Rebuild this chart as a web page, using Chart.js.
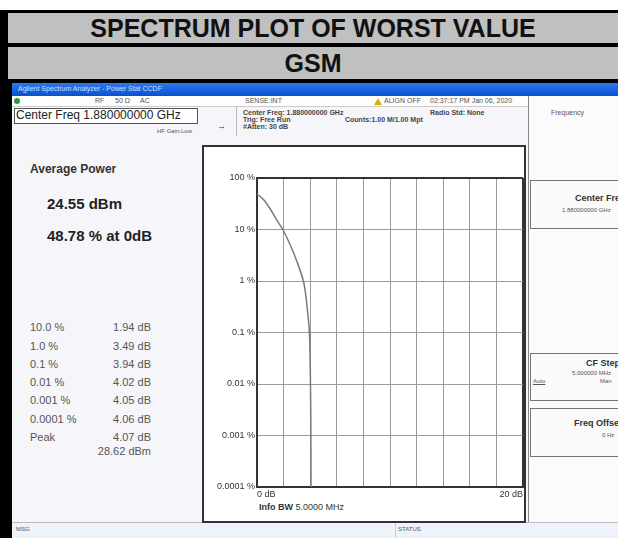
<!DOCTYPE html>
<html>
<head>
<meta charset="utf-8">
<script src="https://cdn.jsdelivr.net/npm/chart.js@4.4.1/dist/chart.umd.min.js"></script>
<style>
  body { margin: 0; width: 618px; height: 538px; overflow: hidden; background: #fff; font-family: "Liberation Sans", Arial, sans-serif; }
  .abs { position: absolute; }
  .row { position: absolute; left: 8px; width: 610px; background: #c0c0c0; color: #111; font-weight: bold; text-align: center; }
  .tiny { position: absolute; font-size: 7px; color: #555; white-space: nowrap; }
  .stat { position: absolute; font-size: 11px; color: #555; white-space: nowrap; }
  .key { position: absolute; left: 530px; width: 88px; border: 1px solid #777; border-right: none; background: #fafafa; }
</style>
</head>
<body>
<div class="abs" style="left:0;top:10px;width:618px;height:528px;background:#000"></div>
<div class="row" style="top:13px;height:30px;line-height:31px;font-size:25px">SPECTRUM PLOT OF WORST VALUE</div>
<div class="row" style="top:47px;height:32px;line-height:32px;font-size:25px">GSM</div>

<!-- analyzer screen -->
<div class="abs" style="left:12px;top:83px;width:606px;height:455px;background:#f6f6fa"></div>
<div class="abs" style="left:12px;top:83px;width:606px;height:13px;background:linear-gradient(#2a78f0,#0a50d0)"></div>
<div class="tiny" style="left:18px;top:85px;color:#cfe0ff">Agilent Spectrum Analyzer - Power Stat CCDF</div>
<div class="abs" style="left:12px;top:96px;width:516px;height:10px;background:#fdfdfd;border-bottom:1px solid #ccc"></div>
<div class="abs" style="left:14px;top:98px;width:6px;height:6px;border-radius:3px;background:#2c9a2c"></div>
<div class="tiny" style="left:95px;top:97px">RF</div>
<div class="tiny" style="left:115px;top:97px">50 Ω</div>
<div class="tiny" style="left:140px;top:97px">AC</div>
<div class="tiny" style="left:245px;top:97px">SENSE:INT</div>
<div class="abs" style="left:374px;top:98px;width:0;height:0;border-left:4px solid transparent;border-right:4px solid transparent;border-bottom:7px solid #d8b000"></div>
<div class="tiny" style="left:384px;top:97px">ALIGN OFF</div>
<div class="tiny" style="left:430px;top:97px">02:37:17 PM Jan 06, 2020</div>

<div class="abs" style="left:14px;top:108px;width:182px;height:14px;background:#fff;border:1px solid #555"></div>
<div class="abs" style="left:16px;top:108px;font-size:12px;color:#222;white-space:nowrap">Center Freq 1.880000000 GHz</div>
<div class="tiny" style="left:243px;top:109px;font-weight:bold;color:#444">Center Freq: 1.880000000 GHz</div>
<div class="tiny" style="left:243px;top:116px;font-weight:bold;color:#444">Trig: Free Run</div>
<div class="tiny" style="left:243px;top:123px;font-weight:bold;color:#444">#Atten: 30 dB</div>
<div class="tiny" style="left:345px;top:116px;font-weight:bold;color:#444">Counts:1.00 M/1.00 Mpt</div>
<div class="tiny" style="left:430px;top:109px;font-weight:bold;color:#444">Radio Std: None</div>
<div class="tiny" style="left:217px;top:121px;font-size:9px;color:#333">&#8594;</div>
<div class="tiny" style="left:157px;top:128px;font-size:6px">HF Gain:Low</div>
<div class="abs" style="left:236px;top:106px;width:1px;height:30px;background:#bbb"></div>
<div class="abs" style="left:528px;top:96px;width:1px;height:426px;background:#888"></div>
<div class="abs" style="left:529px;top:96px;width:89px;height:426px;background:#fbfbfb"></div>
<div class="tiny" style="left:551px;top:109px">Frequency</div>

<div class="key" style="top:180px;height:47px"></div>
<div class="tiny" style="left:575px;top:193px;font-size:9px;font-weight:bold;color:#333">Center Freq</div>
<div class="tiny" style="left:562px;top:207px;font-size:6px">1.880000000 GHz</div>
<div class="key" style="top:353px;height:46px"></div>
<div class="tiny" style="left:586px;top:358px;font-size:9px;font-weight:bold;color:#333">CF Step</div>
<div class="tiny" style="left:572px;top:370px;font-size:6px">5.000000 MHz</div>
<div class="tiny" style="left:533px;top:378px;font-size:6px;text-decoration:underline">Auto</div>
<div class="tiny" style="left:600px;top:378px;font-size:6px">Man</div>
<div class="key" style="top:408px;height:47px"></div>
<div class="tiny" style="left:574px;top:418px;font-size:9px;font-weight:bold;color:#333">Freq Offset</div>
<div class="tiny" style="left:602px;top:432px;font-size:6px">0 Hz</div>

<div class="abs" style="left:12px;top:522px;width:606px;height:16px;background:#eef2fa;border-top:1px solid #bbb"></div>
<div class="tiny" style="left:16px;top:526px;font-size:6px">MSG</div>
<div class="tiny" style="left:398px;top:526px;font-size:6px">STATUS</div>
<div class="abs" style="left:395px;top:523px;width:1px;height:15px;background:#ccc"></div>

<!-- plot frame -->
<div class="abs" style="left:202px;top:145px;width:320px;height:374px;background:#fff;border:2px solid #333"></div>
<div class="abs" style="left:30px;top:162px;font-size:12px;font-weight:bold;color:#333">Average Power</div>
<div class="abs" style="left:47px;top:195px;font-size:15px;font-weight:bold;color:#222">24.55 dBm</div>
<div class="abs" style="left:47px;top:227px;font-size:15px;font-weight:bold;color:#222">48.78 % at 0dB</div>
<div id="stats"></div>
<div class="abs" style="left:259px;top:502px;font-size:9px;color:#333;white-space:nowrap"><b>Info BW</b> 5.0000 MHz</div>

<div class="abs" style="left:203px;top:160px;width:322px;height:345px">
  <canvas id="ccdf"></canvas>
</div>

<script>
// CCDF curve
const powerDb = [0, 0.5, 1.0, 1.5, 1.94, 2.5, 3.0, 3.49, 3.7, 3.94, 4.02, 4.05, 4.06];
const ccdfPct = [48.78, 38, 25, 15, 10, 5, 2.4, 1, 0.45, 0.1, 0.01, 0.001, 0.0001];

// axis ticks
const yTicks = [100, 10, 1, 0.1, 0.01, 0.001, 0.0001];
const yTickLabels = ['100 %', '10 %', '1 %', '0.1 %', '0.01 %', '0.001 %', '0.0001 %'];
const xMin = 0, xMax = 20, xStep = 2;

// statistics table on the left
const statLabels = ['10.0 %', '1.0 %', '0.1 %', '0.01 %', '0.001 %', '0.0001 %', 'Peak', ''];
const statValues = ['1.94 dB', '3.49 dB', '3.94 dB', '4.02 dB', '4.05 dB', '4.06 dB', '4.07 dB', '28.62 dBm'];
const statRowsY = [321, 340, 358, 376, 394, 413, 431, 445];

const stats = document.getElementById('stats');
statLabels.forEach((lab, i) => {
  const a = document.createElement('div');
  a.className = 'stat';
  a.style.left = '30px';
  a.style.top = statRowsY[i] + 'px';
  a.textContent = lab;
  const b = document.createElement('div');
  b.className = 'stat';
  b.style.right = (618 - 151) + 'px';
  b.style.top = statRowsY[i] + 'px';
  b.textContent = statValues[i];
  stats.appendChild(a);
  stats.appendChild(b);
});

const edge = (v, lo, hi) => Math.abs(v - lo) < 1e-9 || Math.abs(v - hi) < 1e-9;

new Chart(document.getElementById('ccdf'), {
  type: 'line',
  data: {
    datasets: [{
      data: powerDb.map((x, i) => ({ x, y: ccdfPct[i] })),
      borderColor: '#7a7a7a',
      borderWidth: 1.5,
      pointRadius: 0,
      tension: 0.3,
      fill: false
    }]
  },
  options: {
    responsive: true,
    maintainAspectRatio: false,
    animation: false,
    layout: { padding: { top: 18, right: 2, left: 0, bottom: 0 } },
    plugins: { legend: { display: false }, tooltip: { enabled: false } },
    scales: {
      x: {
        type: 'linear', min: xMin, max: xMax,
        ticks: {
          stepSize: xStep, align: 'inner', maxRotation: 0, autoSkip: false, padding: 2,
          color: '#333', font: { family: 'Liberation Sans', size: 9 },
          callback: v => (v === xMin || v === xMax) ? v + ' dB' : ''
        },
        grid: {
          drawTicks: false,
          color: c => edge(c.tick.value, xMin, xMax) ? '#333' : '#9a9a9a',
          lineWidth: c => edge(c.tick.value, xMin, xMax) ? 2 : 1
        },
        border: { display: true, color: '#333', width: 2 },
        afterFit: s => { s.height = 18; }
      },
      y: {
        type: 'logarithmic', min: 0.0001, max: 100,
        afterBuildTicks: s => { s.ticks = yTicks.map(v => ({ value: v })); },
        ticks: {
          padding: 2, color: '#333', font: { family: 'Liberation Sans', size: 9 },
          callback: v => yTickLabels[yTicks.findIndex(t => Math.abs(t - v) / t < 1e-6)] || ''
        },
        grid: {
          drawTicks: false,
          color: c => edge(c.tick.value, 0.0001, 100) ? '#333' : '#9a9a9a',
          lineWidth: c => edge(c.tick.value, 0.0001, 100) ? 2 : 1
        },
        border: { display: true, color: '#333', width: 2 },
        afterFit: s => { s.width = 54; }
      }
    }
  }
});
</script>
</body>
</html>
